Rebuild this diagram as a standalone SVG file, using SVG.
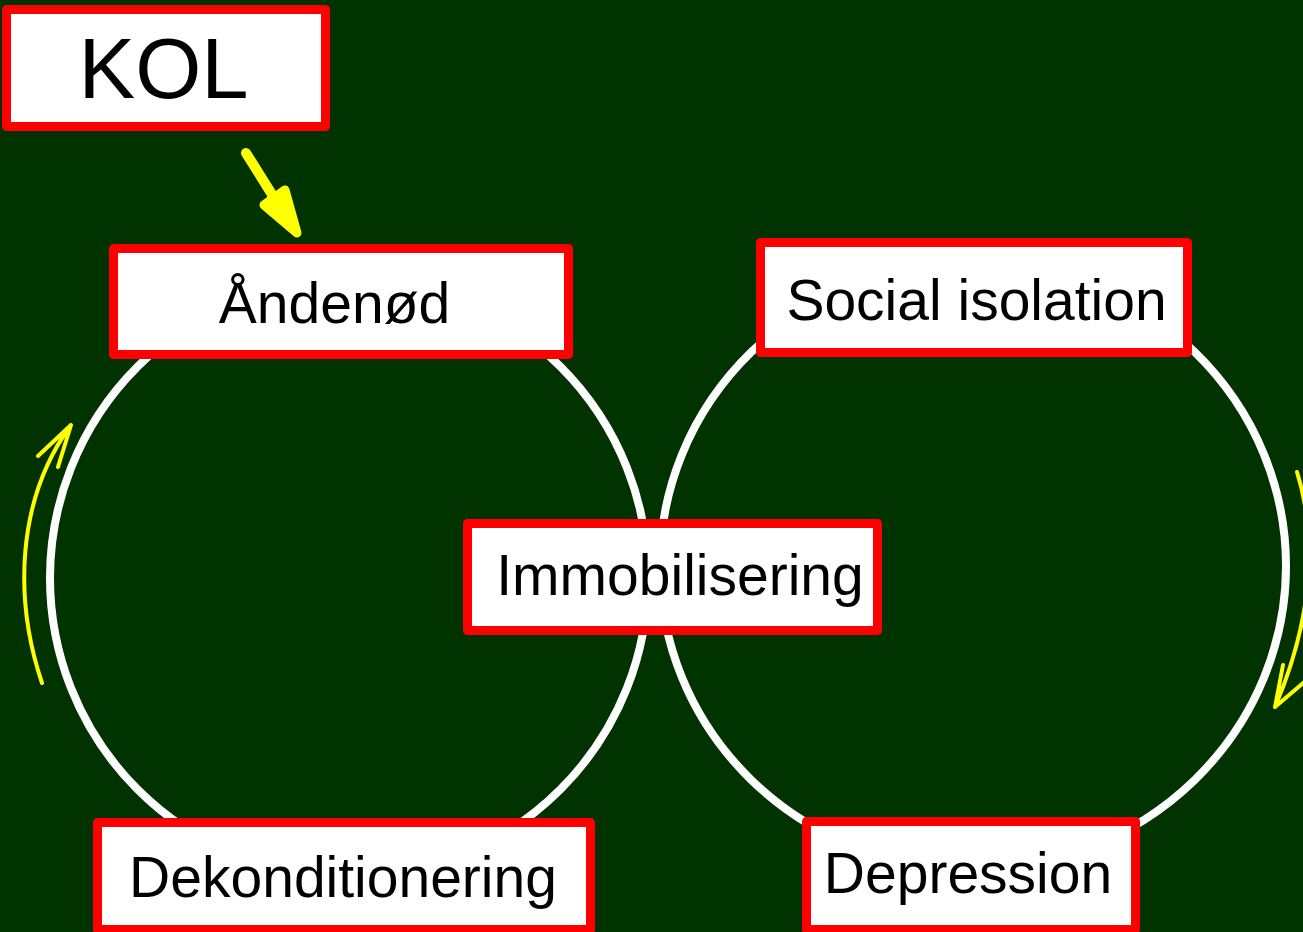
<svg xmlns="http://www.w3.org/2000/svg" width="1303" height="932" viewBox="0 0 1303 932">
<style>
.box{fill:#ffffff;stroke:#ff0000;stroke-width:9;stroke-linejoin:round}
.lbl{font-family:"Liberation Sans",Arial,sans-serif;font-size:57px;fill:#000000;text-anchor:middle}
.ring{fill:none;stroke:#ffffff;stroke-width:8}
.ya{fill:none;stroke:#ffff00;stroke-width:4;stroke-linecap:round;stroke-linejoin:round}
</style>
<rect x="0" y="0" width="1303" height="932" fill="#003300"/>
<g id="connectors">
<circle class="ring" cx="349" cy="578" r="299"/>
<ellipse class="ring" cx="973" cy="566" rx="313" ry="303"/>
<path class="ya" d="M42,683 C14,600 16,500 71,425 M38,456 L71,425 L58,467"/>
<path class="ya" d="M1297,472 C1318,540 1312,620 1275,707 M1283,665 L1275,707 L1308,679"/>
<line x1="246" y1="153" x2="288" y2="220" stroke="#ffff00" stroke-width="10" stroke-linecap="round"/>
<polygon points="297,233 264,205 285,190" fill="#ffff00" stroke="#ffff00" stroke-width="9" stroke-linejoin="round"/>
</g>
<g id="kol">
<rect class="box" x="6.5" y="9.5" width="319" height="117"/>
<text class="lbl" x="163.5" y="98" style="font-size:85px">KOL</text>
</g>
<g id="andenod">
<rect class="box" x="113.5" y="248.5" width="455" height="106"/>
<text class="lbl" x="334.5" y="323">Åndenød</text>
</g>
<g id="social">
<rect class="box" x="760.5" y="242.5" width="427" height="110"/>
<text class="lbl" x="976.5" y="320">Social isolation</text>
</g>
<g id="immob">
<rect class="box" x="467.5" y="523.5" width="410" height="107"/>
<text class="lbl" x="680" y="595">Immobilisering</text>
</g>
<g id="dekond">
<rect class="box" x="97.5" y="822.5" width="493" height="107"/>
<text class="lbl" x="343" y="897">Dekonditionering</text>
</g>
<g id="depression">
<rect class="box" x="806.5" y="821.5" width="329" height="108"/>
<text class="lbl" x="968" y="893">Depression</text>
</g>
</svg>
